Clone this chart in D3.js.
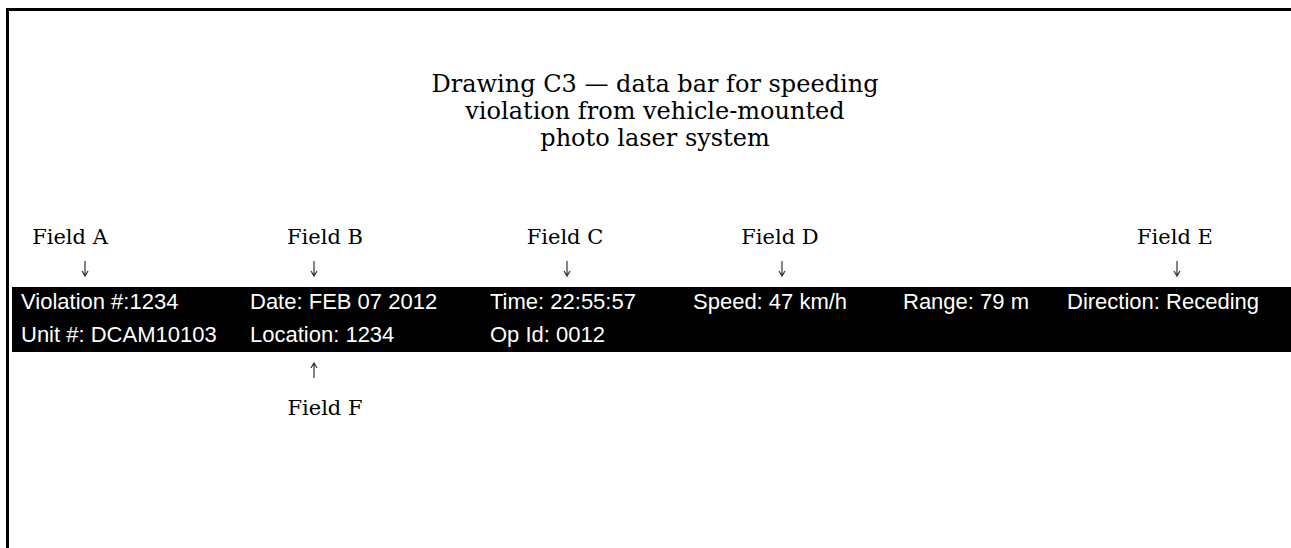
<!DOCTYPE html>
<html>
<head>
<meta charset="utf-8">
<script src="https://cdn.jsdelivr.net/npm/d3@7"></script>
<style>
  html, body { margin: 0; padding: 0; background: #fff; overflow: hidden; }
  svg { display: block; }
</style>
</head>
<body>
<svg id="chart" width="1291" height="548"></svg>
<script>
// ---- data ----
const titleLines = ["Drawing C3 \u2014 data bar for speeding", "violation from vehicle-mounted", "photo laser system"];
const barRow1 = ["Violation #:1234", "Date: FEB 07 2012", "Time: 22:55:57", "Speed: 47 km/h", "Range: 79 m", "Direction: Receding"];
const barRow2 = ["Unit #: DCAM10103", "Location: 1234", "Op Id: 0012"];
const fieldsAbove = ["Field A", "Field B", "Field C", "Field D", "Field E"];
const fieldsBelow = ["Field F"];

// ---- layout ----
const W = 1291, H = 548;
const svg = d3.select("#chart");

// frame (right/bottom edges lie outside the view)
svg.append("rect")
  .attr("x", 7.5).attr("y", 9.5)
  .attr("width", W + 20).attr("height", H + 20)
  .attr("fill", "none").attr("stroke", "#000").attr("stroke-width", 3);

// title
const titleY = d3.scaleLinear().domain([0, 1]).range([92, 119]);
svg.append("g").selectAll("text").data(titleLines).join("text")
  .attr("x", 655).attr("y", (d, i) => titleY(i))
  .attr("text-anchor", "middle")
  .attr("font-family", "DejaVu Serif, serif")
  .attr("font-size", 24)
  .attr("fill", "#000")
  .text(d => d);

// column positions for bar text
const colX = d3.scaleOrdinal().domain(d3.range(6)).range([21, 250, 490, 693, 903, 1067]);
const rowY = d3.scaleOrdinal().domain([0, 1]).range([309, 342]);

// data bar
const barTop = 287, barBottom = 352;
svg.append("rect")
  .attr("x", 12).attr("y", barTop)
  .attr("width", W - 12).attr("height", barBottom - barTop)
  .attr("fill", "#000");

const gBar = svg.append("g")
  .attr("font-family", "Liberation Sans, Arial, sans-serif")
  .attr("font-size", 22)
  .attr("fill", "#fff");
gBar.selectAll("text.r1").data(barRow1).join("text").attr("class", "r1")
  .attr("x", (d, i) => colX(i)).attr("y", rowY(0)).text(d => d);
gBar.selectAll("text.r2").data(barRow2).join("text").attr("class", "r2")
  .attr("x", (d, i) => colX(i)).attr("y", rowY(1)).text(d => d);

// field labels & arrows
const labelX = d3.scaleOrdinal()
  .domain(["Field A", "Field B", "Field C", "Field D", "Field E", "Field F"])
  .range([70, 325, 565, 780, 1175, 325]);
const arrowX = d3.scaleOrdinal()
  .domain(["Field A", "Field B", "Field C", "Field D", "Field E", "Field F"])
  .range([85, 314, 567, 782, 1177, 314]);

const gLab = svg.append("g")
  .attr("font-family", "DejaVu Serif, serif")
  .attr("font-size", 21)
  .attr("fill", "#000")
  .attr("text-anchor", "middle");
gLab.selectAll("text.above").data(fieldsAbove).join("text").attr("class", "above")
  .attr("x", d => labelX(d)).attr("y", 244).text(d => d);
gLab.selectAll("text.below").data(fieldsBelow).join("text").attr("class", "below")
  .attr("x", d => labelX(d)).attr("y", 415).text(d => d);

// arrows drawn as paths
function arrowPath(x, y0, y1) {
  const dir = y1 > y0 ? 1 : -1;
  return `M${x},${y0}L${x},${y1}M${x - 3},${y1 - dir * 5}L${x},${y1}L${x + 3},${y1 - dir * 5}`;
}
const gArr = svg.append("g")
  .attr("fill", "none").attr("stroke", "#333").attr("stroke-width", 1.2);
gArr.selectAll("path.down").data(fieldsAbove).join("path").attr("class", "down")
  .attr("d", d => arrowPath(arrowX(d), 261, 276));
gArr.selectAll("path.up").data(fieldsBelow).join("path").attr("class", "up")
  .attr("d", d => arrowPath(arrowX(d), 378, 363));
</script>
</body>
</html>
